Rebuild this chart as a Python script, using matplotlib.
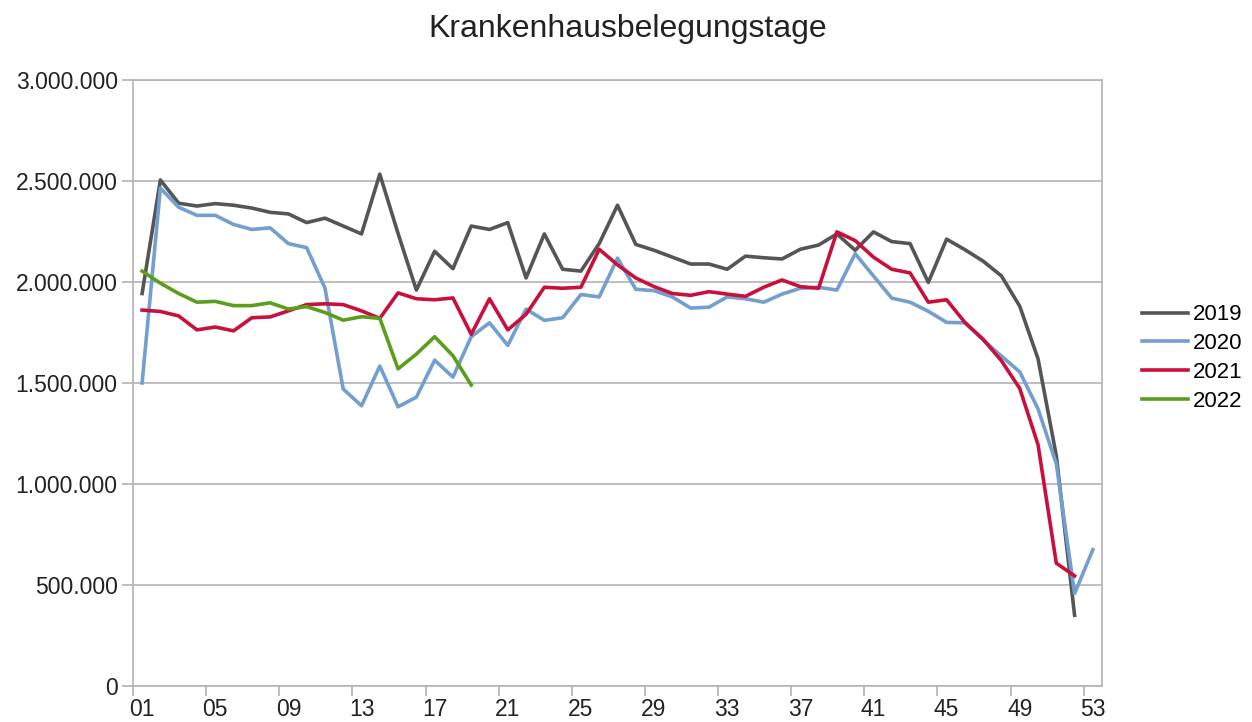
import matplotlib
matplotlib.use("Agg")
import matplotlib.pyplot as plt
from matplotlib.ticker import FuncFormatter
import numpy as np

plt.rcParams['font.family'] = ['Liberation Sans', 'DejaVu Sans']

# calendar weeks
weeks_2019 = list(range(1, 53))
weeks_2020 = list(range(1, 54))
weeks_2021 = list(range(1, 53))
weeks_2022 = list(range(1, 20))

# occupied hospital bed days per week
days_2019 = [1943000, 2505000, 2390000, 2376000, 2388000, 2380000, 2366000, 2345000, 2337000, 2294000,
             2316000, 2277000, 2238000, 2534000, 2240000, 1960000, 2152000, 2066000, 2277000, 2260000,
             2294000, 2020000, 2238000, 2063000, 2054000, 2190000, 2380000, 2186000, 2157000, 2123000,
             2089000, 2089000, 2063000, 2128000, 2120000, 2114000, 2162000, 2183000, 2238000, 2157000,
             2248000, 2200000, 2190000, 1998000, 2212000, 2160000, 2103000, 2030000, 1880000, 1620000,
             1140000, 350000]
days_2020 = [1500000, 2465000, 2370000, 2330000, 2330000, 2285000, 2260000, 2268000, 2190000, 2170000,
             1970000, 1470000, 1387000, 1584000, 1382000, 1430000, 1613000, 1529000, 1729000, 1798000,
             1686000, 1866000, 1810000, 1823000, 1938000, 1926000, 2118000, 1964000, 1957000, 1926000,
             1871000, 1875000, 1926000, 1917000, 1900000, 1940000, 1969000, 1974000, 1960000, 2140000,
             2030000, 1920000, 1900000, 1855000, 1800000, 1798000, 1713000, 1633000, 1555000, 1372000,
             1100000, 458000, 675000]
days_2021 = [1861000, 1854000, 1832000, 1763000, 1777000, 1758000, 1823000, 1827000, 1857000, 1888000,
             1892000, 1888000, 1857000, 1820000, 1946000, 1917000, 1912000, 1921000, 1741000, 1917000,
             1763000, 1840000, 1974000, 1969000, 1974000, 2162000, 2085000, 2020000, 1977000, 1943000,
             1934000, 1952000, 1940000, 1929000, 1974000, 2010000, 1977000, 1969000, 2248000, 2205000,
             2123000, 2063000, 2045000, 1900000, 1912000, 1800000, 1716000, 1610000, 1473000, 1195000,
             608000, 545000]
days_2022 = [2054000, 1994000, 1943000, 1900000, 1904000, 1883000, 1883000, 1897000, 1866000, 1878000,
             1849000, 1811000, 1828000, 1820000, 1570000, 1643000, 1729000, 1635000, 1490000]

week_labels = ["01", "05", "09", "13", "17", "21", "25", "29", "33", "37", "41", "45", "49", "53"]

fig = plt.figure(figsize=(12.52, 7.22), dpi=100)
ax = fig.add_axes([0.1062, 0.0499, 0.774, 0.8393])

ax.plot(weeks_2019, days_2019, color='#555555', lw=2.6, label='2019')
ax.plot(weeks_2020, days_2020, color='#729fcf', lw=2.6, label='2020')
ax.plot(weeks_2021, days_2021, color='#c9103d', lw=2.6, label='2021')
ax.plot(weeks_2022, days_2022, color='#5a9e1c', lw=2.6, label='2022')

ax.set_xlim(0.5, 53.5)
ax.set_ylim(0, 3000000)
ax.set_yticks(np.arange(0, 3000001, 500000))
ax.yaxis.set_major_formatter(FuncFormatter(lambda v, p: f"{int(v):,}".replace(",", ".")))
ax.grid(axis='y', color='#b3b3b3', lw=1.2)
ax.set_axisbelow(True)

label_pos = [int(s) for s in week_labels]
ax.set_xticks(label_pos)
ax.set_xticklabels(week_labels)
ax.set_xticks([p - 0.5 for p in label_pos], minor=True)
ax.tick_params(axis='x', which='major', length=0, pad=9, labelsize=16.5, colors='#222222')
ax.tick_params(axis='x', which='minor', length=7, color='#b3b3b3', width=1.2)
ax.tick_params(axis='y', length=8, color='#b3b3b3', width=1.2, labelsize=16.5, colors='#222222', pad=3)
for s in ax.spines.values():
    s.set_color('#b3b3b3')
    s.set_linewidth(1.2)

fig.text(0.501, 0.96, 'Krankenhausbelegungstage', fontsize=23, color='#222222', ha='center', va='center')

ax.legend(loc='center left', bbox_to_anchor=(1.0206, 0.541), frameon=False, fontsize=16,
          handlelength=2.05, handletextpad=0.25, labelspacing=0.35)

plt.savefig('out.png', dpi=100)
